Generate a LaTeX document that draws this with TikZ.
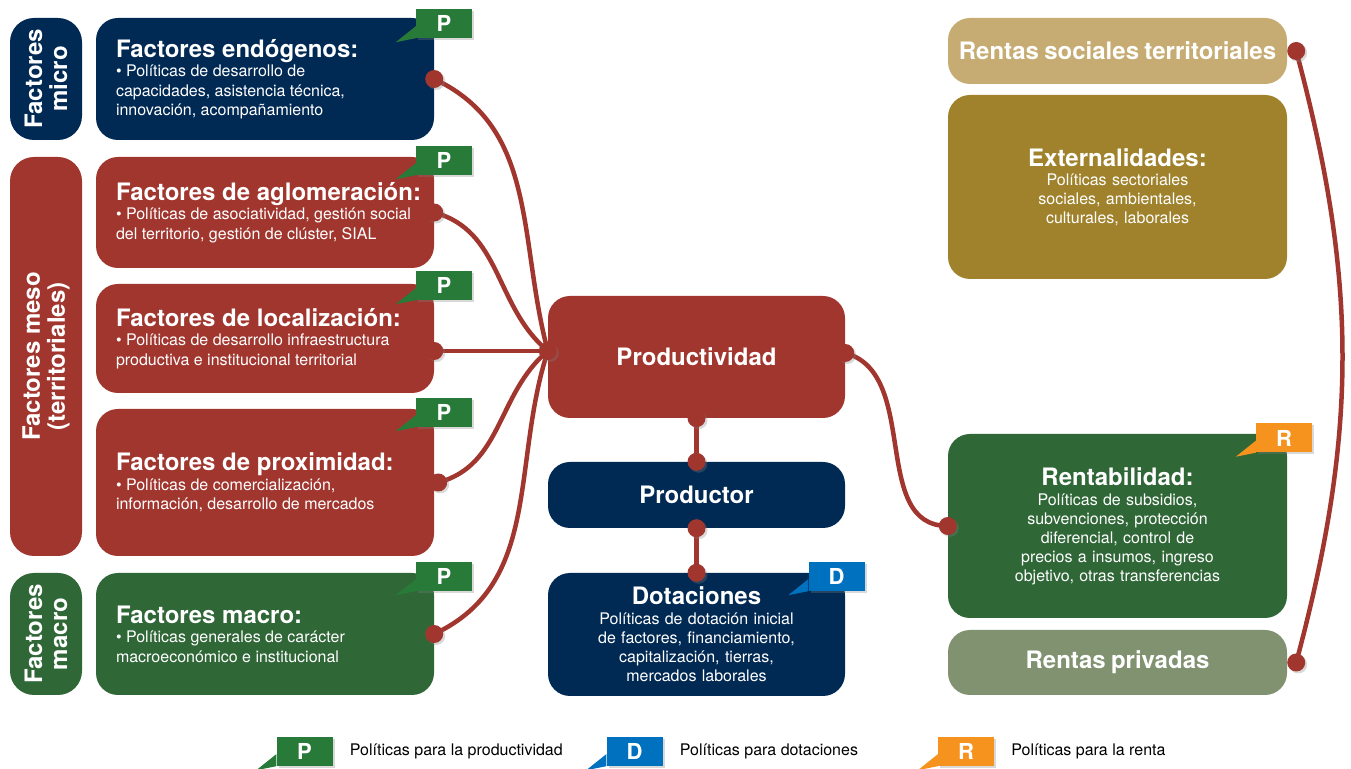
\documentclass[tikz,border=0pt]{standalone}
\usepackage{fontspec}
\setmainfont{TeX Gyre Heros}
\usepackage{tikz}
\usepackage{xcolor}
\usetikzlibrary{positioning,shadows,backgrounds}
\definecolor{azul}{RGB}{0,41,83}
\definecolor{rojo}{RGB}{161,54,47}
\definecolor{verde}{RGB}{47,103,55}
\definecolor{verdeP}{RGB}{40,122,57}
\definecolor{azulD}{RGB}{0,113,190}
\definecolor{naranja}{RGB}{246,147,30}
\definecolor{beige}{RGB}{198,172,114}
\definecolor{oliva}{RGB}{160,130,44}
\definecolor{gris}{RGB}{128,146,112}
\newcommand{\titulo}[1]{{\fontsize{24}{26}\selectfont\bfseries #1}}

\begin{document}
\begin{tikzpicture}[line cap=round,line join=round,x=1pt,y=1pt,
    lado/.style={rounded corners=24pt,minimum width=#1,minimum height=72pt,rotate=90,text=white,align=center,inner sep=0pt,font=\fontsize{24}{25}\selectfont\bfseries},
    caja/.style={rounded corners=22pt,minimum width=338pt,inner sep=0pt},
    texto/.style={anchor=west,align=left,inner sep=0pt,text=white,font=\fontsize{16}{19.5}\selectfont},
    centro/.style={rounded corners=22pt,minimum width=297pt,text width=277pt,inner xsep=10pt,inner ysep=0pt,align=center,text=white,font=\fontsize{16}{19}\selectfont},
    derecha/.style={rounded corners=22pt,minimum width=339pt,text width=325pt,inner xsep=7pt,inner ysep=0pt,align=center,text=white,font=\fontsize{16}{19}\selectfont},
    insignia/.style={minimum width=56pt,minimum height=29pt,inner sep=0pt,text=white,font=\fontsize{22}{22}\selectfont\bfseries,drop shadow={opacity=0.3,shadow xshift=2pt,shadow yshift=-2pt}},
    punto/.style={circle,fill=rojo,minimum size=18pt,inner sep=0pt,drop shadow={opacity=0.3,shadow xshift=2pt,shadow yshift=-2pt}},
    conector/.style={draw=rojo,line width=4.5pt},
    leyenda/.style={inner sep=0pt,font=\fontsize{16}{18}\selectfont}]
\useasboundingbox (0,0) rectangle (1351,768);
\node[lado=122pt,fill=azul] (lmic) at (46,689) {Factores\\micro};
\node[lado=399pt,fill=rojo] (lmes) at (46,411.5) {Factores meso\\(territoriales)};
\node[lado=122pt,fill=verde] (lmac) at (46,134) {Factores\\macro};
\node[caja,fill=azul,minimum height=122pt] (endo) at (265,689) {};
\node[texto] (endoT) at ([xshift=20pt]endo.west) {\titulo{Factores endógenos:}\\ \textbullet{} Políticas de desarrollo de\\ capacidades, asistencia técnica,\\ innovación, acompañamiento};
\node[caja,fill=rojo,minimum height=111pt] (aglo) at (265,555.5) {};
\node[texto] (agloT) at ([xshift=20pt]aglo.west) {\titulo{Factores de aglomeración:}\\ \textbullet{} Políticas de asociatividad, gestión social\\ del territorio, gestión de clúster, SIAL};
\node[caja,fill=rojo,minimum height=109pt] (loca) at (265,429.5) {};
\node[texto] (locaT) at ([xshift=20pt]loca.west) {\titulo{Factores de localización:}\\ \textbullet{} Políticas de desarrollo infraestructura\\ productiva e institucional territorial};
\node[caja,fill=rojo,minimum height=147pt] (prox) at (265,285.5) {};
\node[texto] (proxT) at ([xshift=20pt]prox.west) {\titulo{Factores de proximidad:}\\ \textbullet{} Políticas de comercialización,\\ información, desarrollo de mercados};
\node[caja,fill=verde,minimum height=122pt] (fmac) at (265,134) {};
\node[texto] (fmacT) at ([xshift=20pt]fmac.west) {\titulo{Factores macro:}\\ \textbullet{} Políticas generales de carácter\\ macroeconómico e institucional};
\node[centro,fill=rojo,minimum height=122pt] (prod) at (696.5,411) {\titulo{Productividad}};
\node[centro,fill=azul,minimum height=66pt] (ptor) at (696.5,273) {\titulo{Productor}};
\node[centro,fill=azul,minimum height=123pt] (dota) at (696.5,133.5) {\titulo{Dotaciones}\\[1pt] Políticas de dotación inicial\\ de factores, financiamiento,\\ capitalización, tierras,\\ mercados laborales};
\node[derecha,fill=beige,minimum height=66pt] (rsoc) at (1117.5,717) {\titulo{Rentas sociales territoriales}};
\node[derecha,fill=oliva,minimum height=184pt] (exte) at (1117.5,581) {\titulo{Externalidades:}\\ Políticas sectoriales\\ sociales, ambientales,\\ culturales, laborales};
\node[derecha,fill=verde,minimum height=184pt] (rent) at (1117.5,242) {\titulo{Rentabilidad:}\\[1pt] Políticas de subsidios,\\ subvenciones, protección\\ diferencial, control de\\ precios a insumos, ingreso\\ objetivo, otras transferencias};
\node[derecha,fill=gris,minimum height=65pt] (rpri) at (1117.5,105.5) {\titulo{Rentas privadas}};
\node[punto] (dEndo) at (endo.east) {};
\node[punto] (dAglo) at (aglo.east) {};
\node[punto] (dHub) at ([yshift=6pt]prod.west) {};
\node[punto] (dLoca) at (loca.east |- dHub) {};
\node[punto] (dProx) at ([xshift=4pt]prox.east) {};
\node[punto] (dFmac) at (fmac.east) {};
\node[punto] (dProdS) at (prod.south) {};
\node[punto] (dPtorN) at (ptor.north) {};
\node[punto] (dPtorS) at (ptor.south) {};
\node[punto] (dDotaN) at (dota.north) {};
\node[punto] (dProdE) at ([yshift=4pt]prod.east) {};
\node[punto] (dRent) at (rent.west) {};
\node[punto] (dRsoc) at ([xshift=9pt]rsoc.east) {};
\node[punto] (dRpri) at ([xshift=9pt]rpri.east) {};
\begin{scope}[on background layer]
\draw[conector] (dEndo.center) to[out=-25,in=105] (dHub.center);
\draw[conector] (dAglo.center) to[out=-15,in=140] (dHub.center);
\draw[conector] (dLoca.center) -- (dHub.center);
\draw[conector] (dProx.center) to[out=15,in=-140] (dHub.center);
\draw[conector] (dFmac.center) to[out=25,in=-108] (dHub.center);
\draw[conector] (dProdS.center) -- (dPtorN.center);
\draw[conector] (dPtorS.center) -- (dDotaN.center);
\draw[conector] (dProdE.center) to[out=-15,in=180] (dRent.center);
\draw[conector] (dRsoc.center) to[out=-75,in=75] (dRpri.center);
\end{scope}
\node[insignia,fill=verdeP] (p1) at (444,744.5) {P};
\node[insignia,fill=verdeP] (p2) at (444,607.5) {P};
\node[insignia,fill=verdeP] (p3) at (444,482.5) {P};
\node[insignia,fill=verdeP] (p4) at (444,355.5) {P};
\node[insignia,fill=verdeP] (p5) at (444,191.5) {P};
\node[insignia,fill=azulD] (d1) at (836.5,191.5) {D};
\node[insignia,fill=naranja] (r1) at (1284,330) {R};
\node[insignia,fill=verdeP] (lP) at (304.5,16.5) {P};
\node[insignia,fill=azulD] (lD) at (634.5,16.5) {D};
\node[insignia,fill=naranja] (lR) at (966,16.5) {R};
\foreach \b/\c in {p1/verdeP,p2/verdeP,p3/verdeP,p4/verdeP,p5/verdeP,d1/azulD,r1/naranja,lP/verdeP,lD/azulD,lR/naranja}
  \fill[\c] ([yshift=12pt]\b.south west) -- ([xshift=-20pt,yshift=-4pt]\b.south west) -- (\b.south west) -- cycle;
\node[leyenda,right=17pt of lP] (lPt) {Políticas para la productividad};
\node[leyenda,right=17pt of lD] (lDt) {Políticas para dotaciones};
\node[leyenda,right=17pt of lR] (lRt) {Políticas para la renta};
\end{tikzpicture}
\end{document}
